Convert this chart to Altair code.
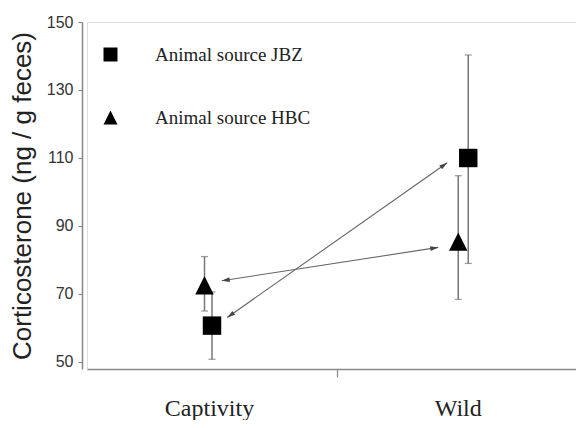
import math
import altair as alt
import pandas as pd

# ---------------- data ----------------
categories = ["Captivity", "Wild"]
category_x = [0.98, 2.97]

series = ["Animal source JBZ", "Animal source HBC"]

jbz_x = [1.0, 3.05]
jbz_mean = [60.7, 110.0]
jbz_low = [50.8, 79.0]
jbz_high = [70.6, 140.3]

hbc_x = [0.94, 2.97]
hbc_mean = [72.6, 85.4]
hbc_low = [65.0, 68.4]
hbc_high = [81.0, 104.8]

# double-headed arrows (start / end in data units)
arrow_x1 = [1.078, 1.122]
arrow_y1 = [73.9, 63.1]
arrow_x2 = [2.81, 2.882]
arrow_y2 = [83.7, 108.6]

y_ticks = [50, 60, 70, 80, 90, 100, 110, 120, 130, 140, 150]

# ---------------- layout ----------------
W, H = 489, 347
XDOM = [0, 3.912]
YDOM = [47.94, 150]
sx = W / (XDOM[1] - XDOM[0])
sy = H / (YDOM[1] - YDOM[0])

pts = pd.DataFrame({
    "series": [series[0]] * 2 + [series[1]] * 2,
    "x": jbz_x + hbc_x,
    "mean": jbz_mean + hbc_mean,
    "low": jbz_low + hbc_low,
    "high": jbz_high + hbc_high,
})

caps = pd.concat([
    pd.DataFrame({"x": pts["x"], "y": pts["low"]}),
    pd.DataFrame({"x": pts["x"], "y": pts["high"]}),
])

arrows = pd.DataFrame({"x1": arrow_x1, "y1": arrow_y1, "x2": arrow_x2, "y2": arrow_y2})

heads = []
for a, b, c, d in zip(arrow_x1, arrow_y1, arrow_x2, arrow_y2):
    for (px, py, qx, qy) in [(a, b, c, d), (c, d, a, b)]:
        dx = (px - qx) * sx
        dy = -(py - qy) * sy
        ang = math.degrees(math.atan2(dx, -dy)) % 360
        heads.append({"x": px, "y": py, "angle": ang})
heads = pd.DataFrame(heads)

labels = pd.DataFrame({"x": category_x, "label": categories})

xscale = alt.Scale(domain=XDOM, nice=False, zero=False)
yscale = alt.Scale(domain=YDOM, nice=False, zero=False)

xaxis = alt.Axis(values=[2], labels=False, title=None, grid=False, tickSize=8,
                 domainColor="#888", tickColor="#888", domainWidth=1.5, tickWidth=1.2)
yaxis = alt.Axis(values=y_ticks, title="Corticosterone (ng / g feces)",
                 labelExpr="datum.value % 20 == 10 ? datum.label : ''",
                 grid=False, offset=5, tickSize=4, tickColor="#888", domainColor="#888",
                 domainWidth=1.5, tickWidth=1.2, labelFont="Liberation Sans", labelFontSize=16,
                 labelColor="#333", labelPadding=5, titleFont="Liberation Sans",
                 titleFontSize=26, titleFontWeight="normal", titleColor="#222", titlePadding=11)

base_x = alt.X("x:Q", scale=xscale, axis=xaxis)

err = alt.Chart(pts).mark_rule(color="#777", strokeWidth=1.5).encode(
    x=base_x,
    y=alt.Y("low:Q", scale=yscale, axis=yaxis),
    y2="high:Q",
)

cap = alt.Chart(caps).mark_tick(orient="horizontal", size=7, thickness=1.3, color="#777").encode(
    x=alt.X("x:Q", scale=xscale),
    y=alt.Y("y:Q", scale=yscale),
)

tri_path = "M0,-1L1,1L-1,1Z"
points = alt.Chart(pts).mark_point(filled=True, opacity=1, color="black", size=340).encode(
    x=alt.X("x:Q", scale=xscale),
    y=alt.Y("mean:Q", scale=yscale),
    shape=alt.Shape("series:N", scale=alt.Scale(domain=series, range=["square", tri_path]),
                    legend=alt.Legend(orient="none", legendX=14, legendY=23, title=None,
                                      labelFont="Liberation Serif", labelFontSize=19,
                                      labelColor="#222", symbolSize=196, labelOffset=35,
                                      rowPadding=43, symbolFillColor="black",
                                      symbolStrokeWidth=0, padding=0)),
)

lines = alt.Chart(arrows).mark_rule(color="#666", strokeWidth=1.1).encode(
    x=alt.X("x1:Q", scale=xscale), x2="x2:Q",
    y=alt.Y("y1:Q", scale=yscale), y2="y2:Q",
)

head_path = "M0,0L-0.6,2L0.6,2Z"
arrowheads = alt.Chart(heads).mark_point(filled=True, opacity=1, color="#444", size=64,
                                         shape=head_path).encode(
    x=alt.X("x:Q", scale=xscale),
    y=alt.Y("y:Q", scale=yscale),
    angle=alt.Angle("angle:Q", scale=None),
)

cat_text = alt.Chart(labels).mark_text(font="Liberation Serif", fontSize=24, color="#222",
                                       baseline="alphabetic", align="center").encode(
    x=alt.X("x:Q", scale=xscale),
    y=alt.value(H + 47),
    text="label:N",
)

chart = alt.layer(err, cap, lines, arrowheads, points, cat_text).properties(
    width=W, height=H,
    padding={"left": 79, "top": 14, "right": 0, "bottom": 51},
    autosize=alt.AutoSizeParams(type="none"),
).configure_view(stroke=None).configure(background="white")

chart.save("out.html", embed_options={"renderer": "svg", "actions": False})
